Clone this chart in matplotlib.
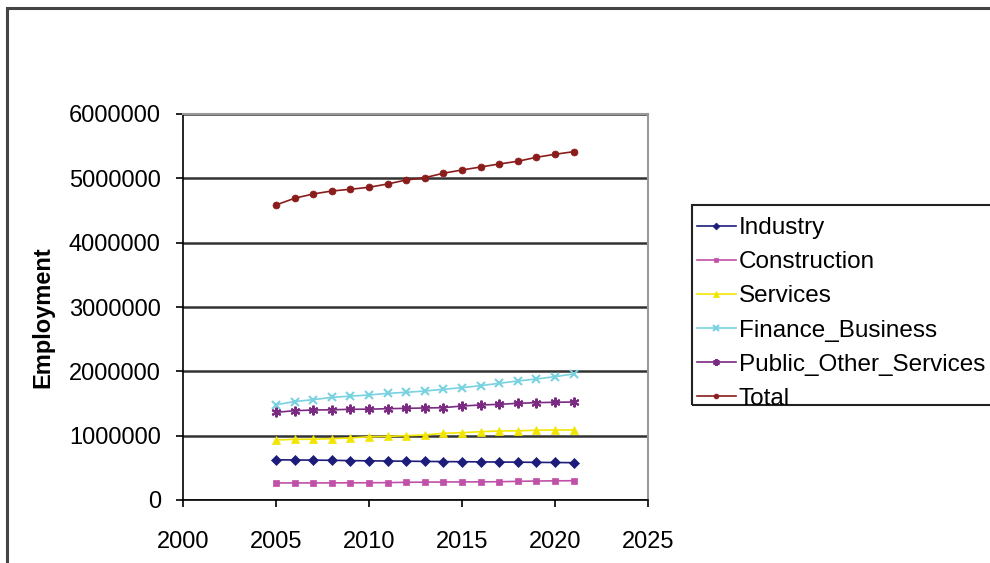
import matplotlib.pyplot as plt
from matplotlib.patches import Rectangle
from matplotlib.ticker import FormatStrFormatter

plt.rcParams['font.family'] = ['Liberation Sans', 'DejaVu Sans']

years = list(range(2005, 2022))
industry = [625000, 622000, 620000, 617000, 612000, 609000, 606000, 603000, 600000,
            597000, 595000, 593000, 590000, 588000, 585000, 583000, 580000]
construction = [265000, 265000, 265000, 266000, 267000, 268000, 270000, 275000, 278000,
                280000, 281000, 282000, 284000, 290000, 295000, 298000, 300000]
services = [933000, 943000, 945000, 953000, 964000, 984000, 988000, 1000000, 1010000,
            1037000, 1046000, 1062000, 1073000, 1075000, 1085000, 1088000, 1090000]
finance = [1480000, 1530000, 1560000, 1595000, 1615000, 1632000, 1658000, 1674000, 1694000,
           1721000, 1746000, 1777000, 1814000, 1850000, 1881000, 1917000, 1959000]
public = [1363000, 1388000, 1399000, 1402000, 1410000, 1412000, 1419000, 1425000, 1430000,
          1435000, 1461000, 1477000, 1487000, 1503000, 1513000, 1519000, 1523000]
total = [4586000, 4690000, 4757000, 4803000, 4830000, 4861000, 4912000, 4974000, 5010000,
         5079000, 5130000, 5176000, 5223000, 5265000, 5327000, 5374000, 5414000]

series = [
    ("Industry", industry, "#1c1c7a", "D", 5),
    ("Construction", construction, "#c050a8", "s", 5),
    ("Services", services, "#f2e600", "^", 6),
    ("Finance_Business", finance, "#78d2e0", "x", 6),
    ("Public_Other_Services", public, "#7a2a80", (6, 2, 0), 7),
    ("Total", total, "#8a1c1c", "o", 5),
]

fig = plt.figure(figsize=(9.9, 5.63), dpi=100)
ax = fig.add_axes([183 / 990, 1 - 500 / 563, 465 / 990, 386 / 563])

for name, vals, col, mk, ms in series:
    ax.plot(years, vals, color=col, marker=mk, markersize=ms, linewidth=1.2,
            markeredgewidth=1.5 if mk in ("x", (6, 2, 0)) else 0.5, label=name)

ax.set_xlim(2000, 2025)
ax.set_ylim(0, 6000000)
ax.set_xticks(range(2000, 2026, 5))
ax.set_yticks(range(0, 6000001, 1000000))
ax.yaxis.set_major_formatter(FormatStrFormatter("%d"))
ax.yaxis.grid(True, color="#333333", linewidth=1.8)
ax.set_axisbelow(True)
ax.tick_params(labelsize=17, direction="out", length=5, width=1.2)
ax.tick_params(axis="x", pad=17)
ax.tick_params(axis="y", pad=11)
for s in ("top", "right"):
    ax.spines[s].set_color("#999999")
    ax.spines[s].set_linewidth(1.5)
ax.spines["left"].set_linewidth(1.2)
ax.spines["bottom"].set_linewidth(1.2)
ax.set_ylabel("Employment", fontsize=17, fontweight="bold")
ax.yaxis.set_label_coords(-0.277, 0.474)

leg = fig.legend(loc="upper left", bbox_to_anchor=(697 / 990, 1 - 217 / 563),
                 fontsize=17.5, frameon=False, handlelength=1.6,
                 handletextpad=0.12, labelspacing=0.5, borderpad=0,
                 borderaxespad=0, markerscale=0.7)

# legend box, running off the right edge
fig.patches.append(Rectangle((692 / 990, 1 - 405 / 563), 0.5, 200 / 563,
                             transform=fig.transFigure, fill=False,
                             edgecolor="#222222", linewidth=1.5))

# outer chart border
fig.patches.append(Rectangle((7 / 990, -0.2), 1.2, 1.2 - 8 / 563, transform=fig.transFigure,
                             fill=False, edgecolor="#444444", linewidth=2.2))

fig.savefig("out.png", dpi=100)
